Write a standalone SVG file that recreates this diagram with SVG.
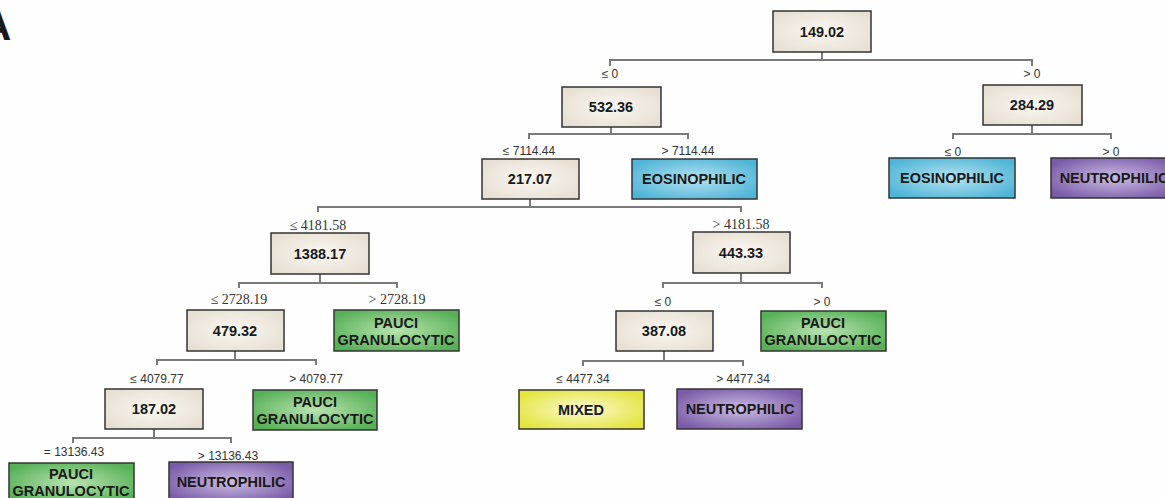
<svg xmlns="http://www.w3.org/2000/svg" width="1165" height="498" viewBox="0 0 1165 498">
<defs>
<radialGradient id="gBeige" cx="0.5" cy="0.5" r="0.6"><stop offset="0" stop-color="#faf8f3"/><stop offset="1" stop-color="#e7dfd2"/></radialGradient>
<radialGradient id="gBlue" cx="0.5" cy="0.5" r="0.6"><stop offset="0" stop-color="#b6e2f2"/><stop offset="1" stop-color="#4fb5d6"/></radialGradient>
<radialGradient id="gGreen" cx="0.5" cy="0.5" r="0.6"><stop offset="0" stop-color="#b9e3b0"/><stop offset="1" stop-color="#56b056"/></radialGradient>
<radialGradient id="gPurple" cx="0.5" cy="0.5" r="0.6"><stop offset="0" stop-color="#cbbde3"/><stop offset="1" stop-color="#7a5ba8"/></radialGradient>
<radialGradient id="gYellow" cx="0.5" cy="0.5" r="0.6"><stop offset="0" stop-color="#fafad2"/><stop offset="1" stop-color="#e4e43c"/></radialGradient>
</defs>
<style>
.box{stroke:#333;stroke-width:1.5}
.dec{fill:url(#gBeige)}
.eos{fill:url(#gBlue)}
.pau{fill:url(#gGreen)}
.neu{fill:url(#gPurple)}
.mix{fill:url(#gYellow)}
.t{font-family:"Liberation Sans",Arial,sans-serif;font-weight:bold;font-size:14.5px;fill:#1a1a1a;text-anchor:middle}
.ls{font-family:"Liberation Sans",Arial,sans-serif;font-size:12px;fill:#333;text-anchor:middle}
.lr{font-family:"Liberation Serif","Times New Roman",serif;font-size:14px;fill:#333;text-anchor:middle}
.c{fill:none;stroke:#7a7a7a;stroke-width:2}
</style>
<rect width="1165" height="498" fill="#fefefe"/>
<text x="-19" y="40" font-family="Liberation Sans,Arial,sans-serif" font-weight="bold" font-size="42" fill="#1a1a1a">A</text>

<g id="connectors">
<path class="c" d="M822 52V60M610 66V60H1032V66"/>
<path class="c" d="M611 127V134M529 139V134H688V139"/>
<path class="c" d="M1032 125V134M953 139V134H1111V139"/>
<path class="c" d="M530 199V207M318 212V207H741V212"/>
<path class="c" d="M320 274V283M239 288V283H397V288"/>
<path class="c" d="M741 273V283M663 288V283H822V288"/>
<path class="c" d="M235 351V360M157 365V360H316V365"/>
<path class="c" d="M664 351V361M583 366V361H743V366"/>
<path class="c" d="M154 429V438M73 443V438H231V443"/>
</g>

<g id="labels">
<text class="ls" x="610" y="78">≤ 0</text>
<text class="ls" x="1032" y="78">&gt; 0</text>
<text class="ls" x="529" y="155">≤ 7114.44</text>
<text class="ls" x="688" y="155">&gt; 7114.44</text>
<text class="ls" x="953" y="156">≤ 0</text>
<text class="ls" x="1111" y="156">&gt; 0</text>
<text class="lr" x="318" y="230">≤ 4181.58</text>
<text class="lr" x="741" y="229">&gt; 4181.58</text>
<text class="lr" x="239" y="304">≤ 2728.19</text>
<text class="lr" x="397" y="304">&gt; 2728.19</text>
<text class="ls" x="663" y="306">≤ 0</text>
<text class="ls" x="822" y="306">&gt; 0</text>
<text class="ls" x="157" y="383">≤ 4079.77</text>
<text class="ls" x="316" y="383">&gt; 4079.77</text>
<text class="ls" x="583" y="383">≤ 4477.34</text>
<text class="ls" x="743" y="383">&gt; 4477.34</text>
<text class="ls" x="74" y="456">= 13136.43</text>
<text class="ls" x="228" y="460">&gt; 13136.43</text>
</g>

<g id="n149"><rect class="box dec" x="773" y="11" width="98" height="41"/><text class="t" x="822" y="37">149.02</text></g>
<g id="n532"><rect class="box dec" x="562" y="87" width="99" height="40"/><text class="t" x="611" y="112">532.36</text></g>
<g id="n284"><rect class="box dec" x="983" y="85" width="99" height="40"/><text class="t" x="1032" y="110">284.29</text></g>
<g id="n217"><rect class="box dec" x="482" y="159" width="97" height="40"/><text class="t" x="530" y="184">217.07</text></g>
<g id="eos1"><rect class="box eos" x="632" y="159" width="125" height="40"/><text class="t" x="694" y="184">EOSINOPHILIC</text></g>
<g id="eos2"><rect class="box eos" x="889" y="158" width="126" height="40"/><text class="t" x="952" y="183">EOSINOPHILIC</text></g>
<g id="neu1"><rect class="box neu" x="1051" y="158" width="126" height="40"/><text class="t" x="1114" y="183">NEUTROPHILIC</text></g>
<g id="n1388"><rect class="box dec" x="271" y="233" width="98" height="41"/><text class="t" x="320" y="259">1388.17</text></g>
<g id="n443"><rect class="box dec" x="693" y="232" width="97" height="41"/><text class="t" x="741" y="258">443.33</text></g>
<g id="n479"><rect class="box dec" x="187" y="310" width="97" height="41"/><text class="t" x="235" y="336">479.32</text></g>
<g id="pau1"><rect class="box pau" x="334" y="310" width="125" height="41"/><text class="t" x="396" y="328">PAUCI</text><text class="t" x="396" y="345">GRANULOCYTIC</text></g>
<g id="n387"><rect class="box dec" x="616" y="311" width="97" height="40"/><text class="t" x="664" y="336">387.08</text></g>
<g id="pau2"><rect class="box pau" x="761" y="311" width="125" height="40"/><text class="t" x="823" y="328">PAUCI</text><text class="t" x="823" y="345">GRANULOCYTIC</text></g>
<g id="n187"><rect class="box dec" x="105" y="389" width="98" height="40"/><text class="t" x="154" y="414">187.02</text></g>
<g id="pau3"><rect class="box pau" x="253" y="390" width="124" height="40"/><text class="t" x="315" y="407">PAUCI</text><text class="t" x="315" y="424">GRANULOCYTIC</text></g>
<g id="mixed"><rect class="box mix" x="519" y="390" width="125" height="39"/><text class="t" x="581" y="415">MIXED</text></g>
<g id="neu2"><rect class="box neu" x="677" y="389" width="125" height="40"/><text class="t" x="740" y="414">NEUTROPHILIC</text></g>
<g id="pau4"><rect class="box pau" x="9" y="463" width="125" height="40"/><text class="t" x="71" y="479">PAUCI</text><text class="t" x="71" y="496">GRANULOCYTIC</text></g>
<g id="neu3"><rect class="box neu" x="169" y="462" width="124" height="40"/><text class="t" x="231" y="487">NEUTROPHILIC</text></g>
</svg>
